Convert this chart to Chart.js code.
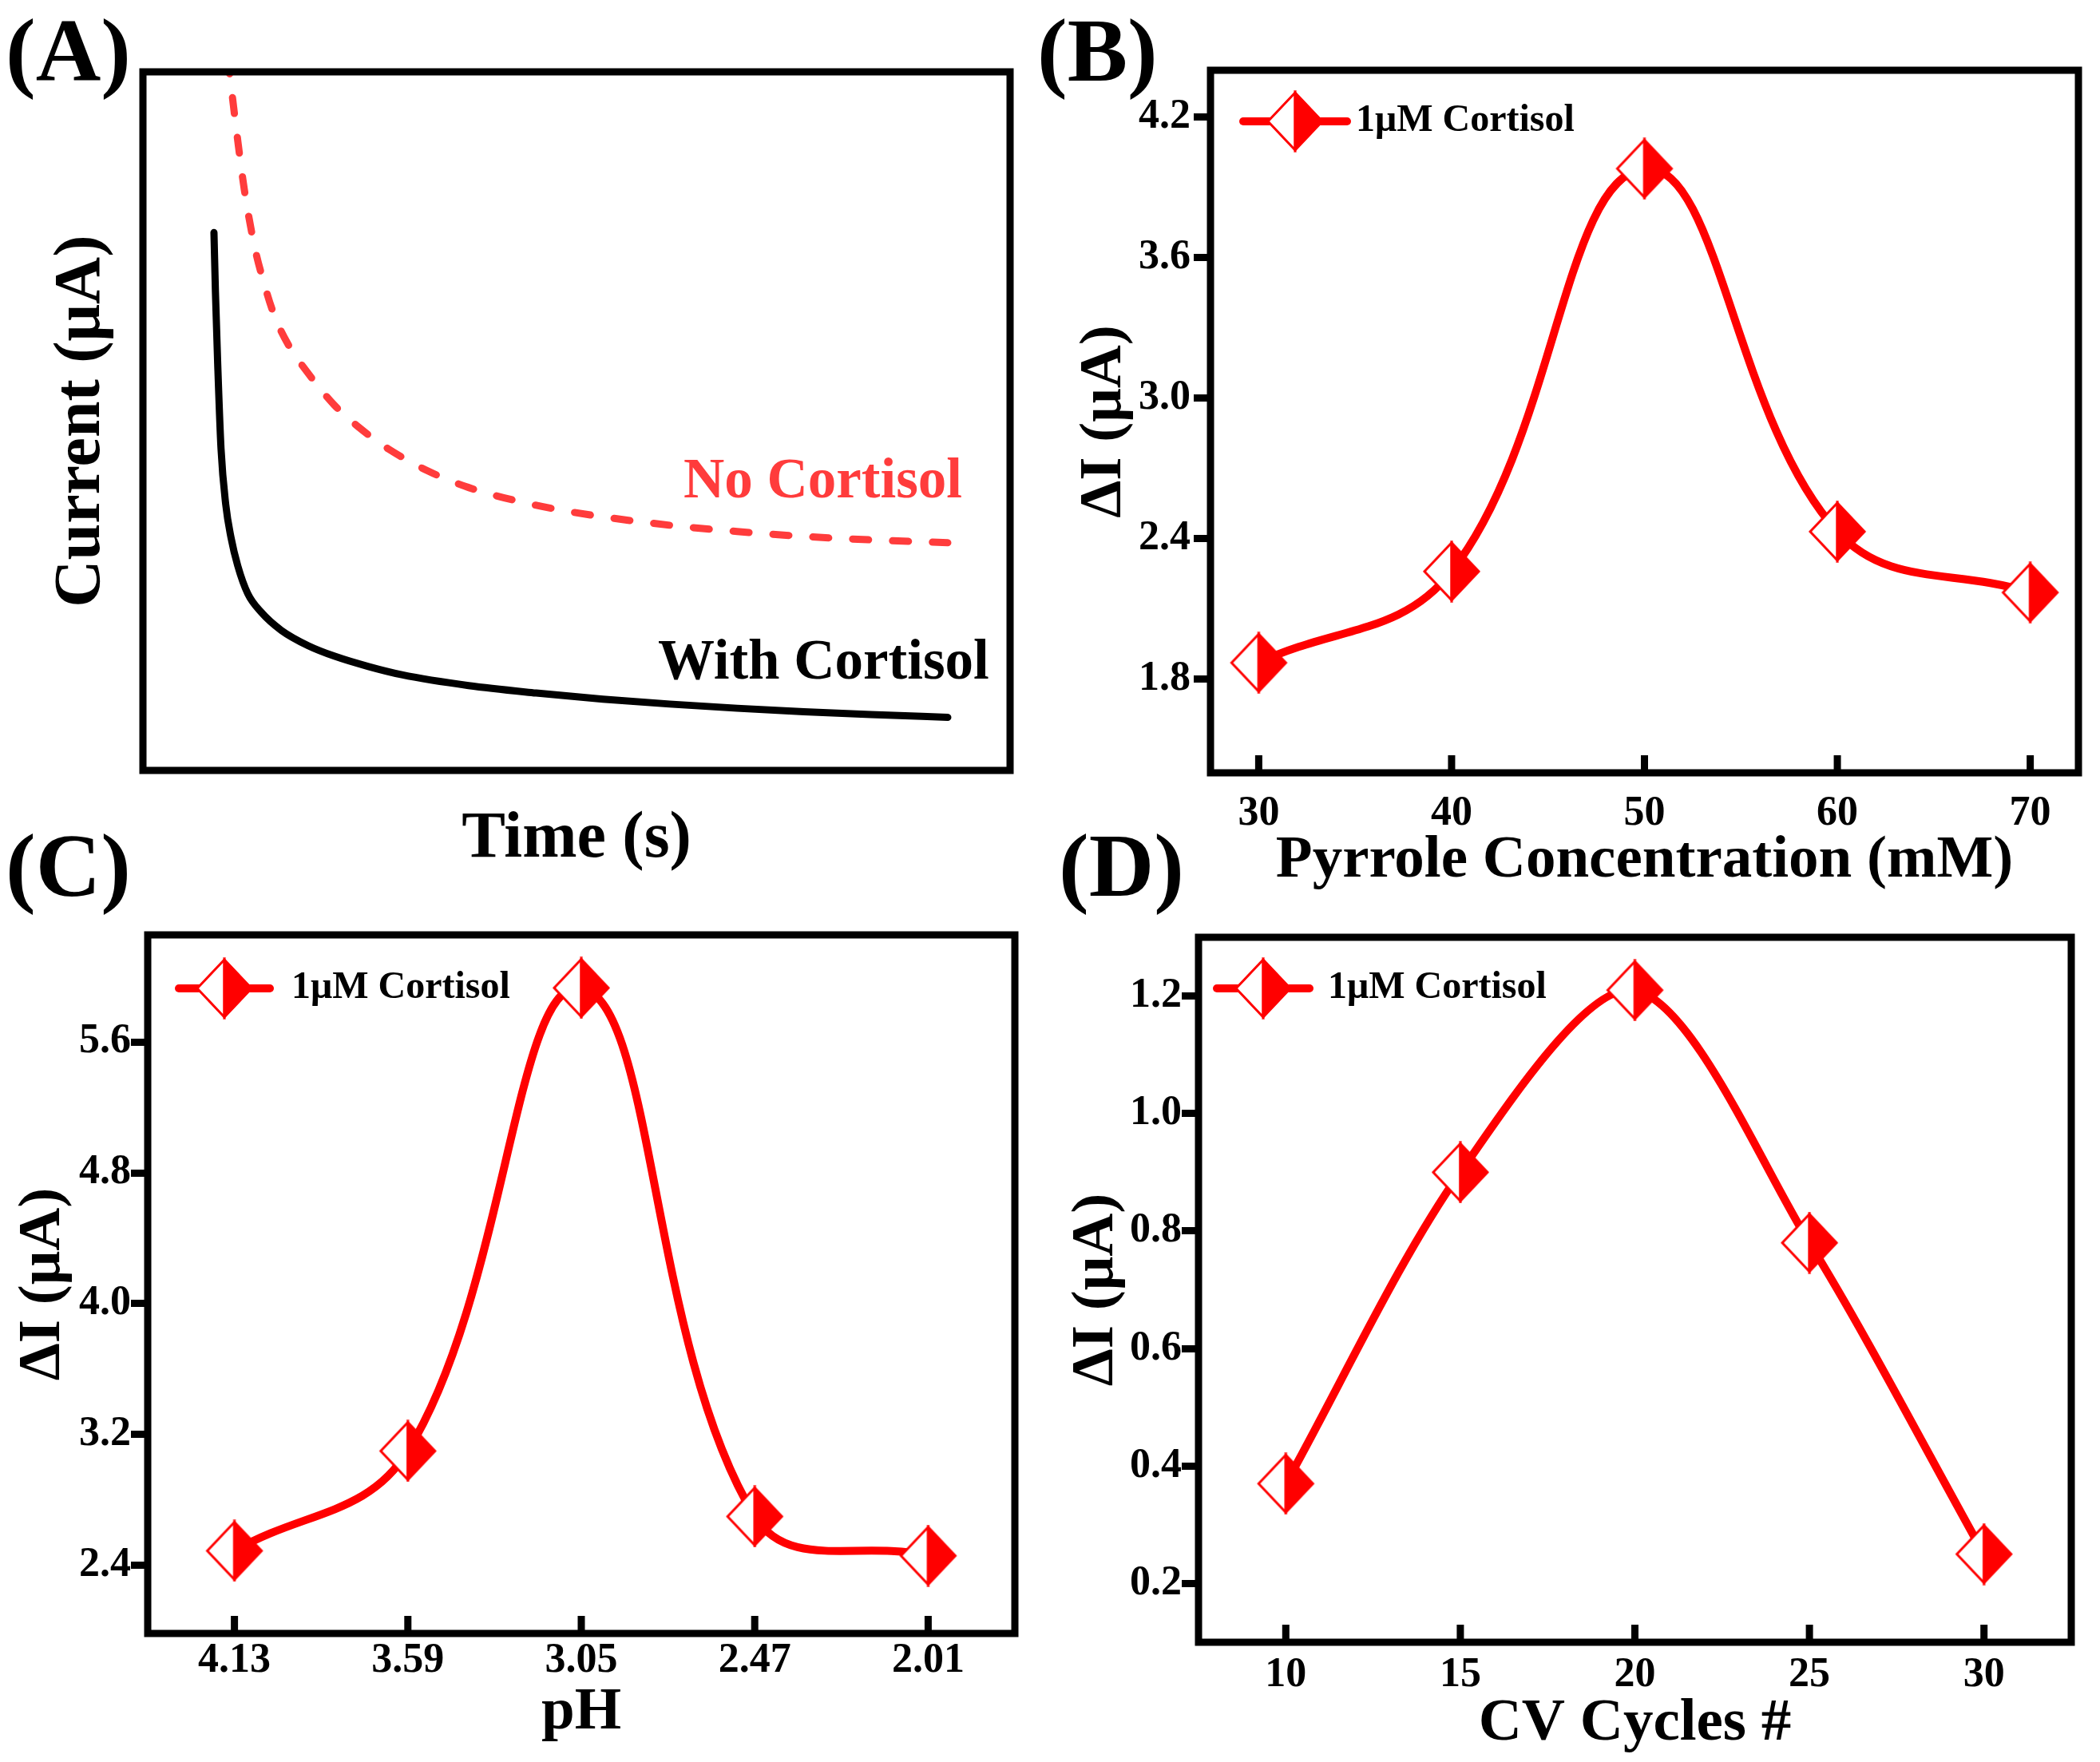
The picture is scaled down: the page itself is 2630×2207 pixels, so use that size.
<!DOCTYPE html>
<html><head><meta charset="utf-8">
<script src="https://cdn.jsdelivr.net/npm/chart.js@4.4.1/dist/chart.umd.min.js"></script>
<style>
html,body{margin:0;padding:0;background:#fff;}
body{width:2630px;height:2207px;position:relative;overflow:hidden;font-family:'Liberation Serif','Times New Roman',serif;}
canvas{position:absolute;}
.lab{position:absolute;font-weight:bold;font-size:113px;line-height:113px;color:#000;white-space:nowrap;z-index:5;}
.ann{position:absolute;font-weight:bold;font-size:71px;line-height:71px;white-space:nowrap;z-index:5;}
</style></head><body>
<canvas id="cA" width="1300" height="1093" style="left:0px;top:0px"></canvas>
<canvas id="cB" width="1330" height="1116" style="left:1300px;top:0px"></canvas>
<canvas id="cC" width="1300" height="1083" style="left:0px;top:1100px"></canvas>
<canvas id="cD" width="1330" height="1097" style="left:1300px;top:1100px"></canvas>
<div class="lab" style="left:7px;top:6px">(A)</div>
<div class="lab" style="left:1299px;top:6px">(B)</div>
<div class="lab" style="left:7px;top:1027px">(C)</div>
<div class="lab" style="left:1326px;top:1027px">(D)</div>
<div class="ann" style="left:856px;top:564px;color:#ff3c3c">No Cortisol</div>
<div class="ann" style="left:824px;top:791px;color:#000">With Cortisol</div>
<script>
// ---------- data ----------
// Panel A (arbitrary units, no ticks shown)
const timeNo = [1.9, 2.2, 3.26, 4.13, 5.55, 6.86, 8.27, 10.1, 12.8, 16.4, 20.6, 23.8, 29.3, 34.7, 42.0, 49.3, 62.1, 71.3, 80.4, 89.6, 100];
const currentNo = [102, 99.2, 90.0, 83.2, 74.9, 69.6, 65.0, 61.0, 56.9, 52.3, 48.4, 46.0, 42.8, 40.5, 38.4, 36.9, 35.1, 34.2, 33.5, 33.0, 32.6];
const timeWith = [0, 0.2, 0.51, 0.96, 1.6, 2.33, 3.24, 4.61, 6.44, 9.18, 12.83, 16.48, 21.05, 25.6, 34.7, 43.9, 53.0, 62.1, 71.3, 80.4, 89.5, 100];
const currentWith = [77.0, 68.5, 58.2, 46.1, 38.1, 33.3, 29.3, 25.3, 22.65, 20.05, 17.86, 16.33, 14.87, 13.69, 12.14, 11.08, 10.2, 9.5, 8.9, 8.4, 8.0, 7.6];
// Panel B
const pyrroleConc = [30, 40, 50, 60, 70];
const pyrroleDeltaI = [1.87, 2.26, 3.98, 2.43, 2.17];
const pyrroleXTicks = [30, 40, 50, 60, 70];
const pyrroleYTicks = [1.8, 2.4, 3.0, 3.6, 4.2];
// Panel C
const phLabels = ['4.13', '3.59', '3.05', '2.47', '2.01'];
const phDeltaI = [2.49, 3.10, 5.93, 2.70, 2.46];
const phYTicks = [2.4, 3.2, 4.0, 4.8, 5.6];
// Panel D
const cvCycles = [10, 15, 20, 25, 30];
const cvDeltaI = [0.37, 0.90, 1.21, 0.78, 0.25];
const cvXTicks = [10, 15, 20, 25, 30];
const cvYTicks = [0.2, 0.4, 0.6, 0.8, 1.0, 1.2];
const seriesLabel = '1\u03bcM Cortisol';

// ---------- styling helpers ----------
const RED = '#ff0000';
const FONT = 'Liberation Serif';
Chart.defaults.font.family = FONT;
Chart.defaults.font.weight = 'bold';
Chart.defaults.color = '#000';

function makeMarker(hw, hh, lw) {
  const c = document.createElement('canvas');
  c.width = 2 * hw + 2 * lw; c.height = 2 * hh + 2 * lw;
  const g = c.getContext('2d');
  const cx = c.width / 2, cy = c.height / 2;
  g.lineJoin = 'miter';
  g.strokeStyle = RED; g.lineWidth = lw;
  g.beginPath(); g.moveTo(cx, cy - hh); g.lineTo(cx - hw, cy); g.lineTo(cx, cy + hh); g.closePath();
  g.fillStyle = '#fff'; g.fill(); g.stroke();
  g.beginPath(); g.moveTo(cx, cy - hh); g.lineTo(cx + hw, cy); g.lineTo(cx, cy + hh); g.closePath();
  g.fillStyle = RED; g.fill(); g.stroke();
  return c;
}
const marker = makeMarker(34, 36, 3);

function makeLegendImg(halfLen, shift) {
  const c = document.createElement('canvas');
  const ext = Math.max(halfLen + 6, marker.width / 2) + Math.abs(shift) + 2;
  c.width = Math.ceil(2 * ext); c.height = marker.height + 4;
  const g = c.getContext('2d');
  const cx = c.width / 2 + shift, cy = c.height / 2;
  g.strokeStyle = RED; g.lineWidth = 10; g.lineCap = 'round';
  g.beginPath(); g.moveTo(cx - halfLen, cy); g.lineTo(cx + halfLen, cy); g.stroke();
  g.drawImage(marker, cx - marker.width / 2, cy - marker.height / 2);
  return c;
}

const framePlugin = {
  id: 'frame',
  afterDraw(chart, args, opts) {
    const {ctx, chartArea: a} = chart;
    ctx.save();
    ctx.strokeStyle = '#000';
    ctx.lineWidth = 9;
    ctx.lineCap = 'butt';
    if (opts.xTicks) {
      const xs = chart.scales.x;
      xs.ticks.forEach((t, i) => {
        const px = xs.getPixelForTick(i);
        ctx.beginPath(); ctx.moveTo(px, a.bottom); ctx.lineTo(px, a.bottom - opts.tickLen); ctx.stroke();
      });
    }
    ctx.strokeRect(a.left, a.top, a.right - a.left, a.bottom - a.top);
    ctx.restore();
  }
};

const fixW = w => s => { s.width = w; };
const fixH = h => s => { s.height = h; };
const setTicks = vals => s => { s.ticks = vals.map(v => ({value: v})); };

function yAxis(min, max, ticks, width, title, titlePad, labelPad) {
  return {
    type: 'linear', position: 'left', min: min, max: max,
    afterBuildTicks: setTicks(ticks), afterFit: fixW(width),
    border: {display: false},
    grid: {display: true, drawOnChartArea: false, drawTicks: true, tickLength: 21, lineWidth: 9, color: '#000'},
    ticks: {font: {size: 52, weight: 'bold', lineHeight: 1}, color: '#000', padding: labelPad, callback: v => Number(v).toFixed(1)},
    title: {display: true, text: title, font: {size: 75, weight: 'bold', lineHeight: 1}, color: '#000', padding: {top: titlePad, bottom: 0}}
  };
}
function xTitle(text) {
  return {display: true, text: text, font: {size: 75, weight: 'bold', lineHeight: 1}, color: '#000', padding: {top: 0, bottom: 0}};
}
function xLin(min, max, ticks, height, title, labelPad) {
  return {
    type: 'linear', position: 'bottom', min: min, max: max,
    afterBuildTicks: setTicks(ticks), afterFit: fixH(height),
    border: {display: false},
    grid: {display: false, drawTicks: false},
    ticks: {font: {size: 52, weight: 'bold', lineHeight: 1}, color: '#000', padding: labelPad, maxRotation: 0, autoSkip: false, callback: v => String(v)},
    title: xTitle(title)
  };
}
// legend drawn inside the plot frame; an empty legend title pushes it down to the frame top
function legendOpts(topOffset, pad, boxW, halfLen, shift) {
  return {
    display: true, position: 'chartArea', align: 'start',
    title: {display: true, text: '', font: {size: 1, lineHeight: 1}, padding: {top: topOffset - 1, bottom: 0}},
    labels: {
      usePointStyle: true, pointStyle: makeLegendImg(halfLen, shift), pointStyleWidth: boxW,
      padding: pad, color: '#000', font: {size: 48, weight: 'bold', family: FONT}
    }
  };
}
function lineDataset(xs, ys, tension) {
  return {
    label: seriesLabel,
    data: xs.map((x, i) => ({x: x, y: ys[i]})),
    borderColor: RED, backgroundColor: RED, borderWidth: 10, tension: tension, fill: false,
    pointStyle: marker, pointRadius: 35, pointHoverRadius: 35
  };
}
const common = {responsive: false, animation: false, devicePixelRatio: 1, events: []};

// ---------- Panel A ----------
new Chart(document.getElementById('cA'), {
  type: 'line',
  data: {datasets: [
    {label: 'No Cortisol', data: timeNo.map((t, i) => ({x: t, y: currentNo[i]})), borderColor: '#ff3c3c', borderWidth: 9,
     borderDash: [20, 30], borderCapStyle: 'round', pointRadius: 0, cubicInterpolationMode: 'monotone', fill: false},
    {label: 'With Cortisol', data: timeWith.map((t, i) => ({x: t, y: currentWith[i]})), borderColor: '#000', borderWidth: 9,
     borderCapStyle: 'round', pointRadius: 0, cubicInterpolationMode: 'monotone', fill: false}
  ]},
  options: Object.assign({}, common, {
    layout: {padding: {left: 0, top: 90, right: 35, bottom: 0}, autoPadding: false},
    plugins: {legend: {display: false}, tooltip: {enabled: false}, frame: {xTicks: false}},
    scales: {
      x: {type: 'linear', min: -9.68, max: 108.49, afterFit: fixH(128), border: {display: false},
          grid: {display: false, drawTicks: false}, ticks: {display: false},
          title: {display: true, text: 'Time (s)', font: {size: 82, weight: 'bold', lineHeight: 1}, color: '#000', padding: {top: 0, bottom: 0}}},
      y: {type: 'linear', min: 0, max: 100, afterFit: fixW(179), border: {display: false},
          grid: {display: false, drawTicks: false}, ticks: {display: false},
          title: {display: true, text: 'Current (\u03bcA)', font: {size: 82, weight: 'bold', lineHeight: 1}, color: '#000', padding: {top: 62, bottom: 0}}}
    }
  }),
  plugins: [framePlugin]
});

// ---------- Panel B ----------
new Chart(document.getElementById('cB'), {
  type: 'line',
  data: {datasets: [lineDataset(pyrroleConc, pyrroleDeltaI, 0.4)]},
  options: Object.assign({}, common, {
    layout: {padding: {left: 0, top: 88, right: 27, bottom: 0}, autoPadding: false},
    plugins: {legend: legendOpts(88, 40, 118, 65, 7), tooltip: {enabled: false}, frame: {xTicks: true, tickLen: 22}},
    scales: {
      x: xLin(27.5, 72.5, pyrroleXTicks, 148, 'Pyrrole Concentration (mM)', 26),
      y: yAxis(1.4, 4.4, pyrroleYTicks, 216, '\u0394I (\u03bcA)', 46.5, 4)
    }
  }),
  plugins: [framePlugin]
});

// ---------- Panel C ----------
new Chart(document.getElementById('cC'), {
  type: 'line',
  data: {labels: phLabels, datasets: [Object.assign(lineDataset(phLabels, phDeltaI, 0.4), {data: phDeltaI})]},
  options: Object.assign({}, common, {
    layout: {padding: {left: 0, top: 71, right: 29, bottom: 0}, autoPadding: false},
    plugins: {legend: legendOpts(71, 43, 113, 57, -3.5), tooltip: {enabled: false}, frame: {xTicks: true, tickLen: 22}},
    scales: {
      x: {type: 'category', position: 'bottom', offset: true, afterFit: fixH(137), border: {display: false},
          grid: {display: false, drawTicks: false, offset: true},
          ticks: {font: {size: 52, weight: 'bold', lineHeight: 1}, color: '#000', padding: 9, maxRotation: 0, autoSkip: false},
          title: xTitle('pH')},
      y: yAxis(1.985, 6.254, phYTicks, 185, '\u0394I (\u03bcA)', 17.5, 0)
    }
  }),
  plugins: [framePlugin]
});

// ---------- Panel D ----------
new Chart(document.getElementById('cD'), {
  type: 'line',
  data: {datasets: [lineDataset(cvCycles, cvDeltaI, 0.3)]},
  options: Object.assign({}, common, {
    layout: {padding: {left: 0, top: 74, right: 36, bottom: 0}, autoPadding: false},
    plugins: {legend: legendOpts(74, 40, 98, 58, -8), tooltip: {enabled: false}, frame: {xTicks: true, tickLen: 22}},
    scales: {
      x: xLin(7.5, 32.5, cvXTicks, 140, 'CV Cycles #', 16),
      y: yAxis(0.1, 1.3, cvYTicks, 201, '\u0394I (\u03bcA)', 36.5, 0)
    }
  }),
  plugins: [framePlugin]
});
</script>
</body></html>
